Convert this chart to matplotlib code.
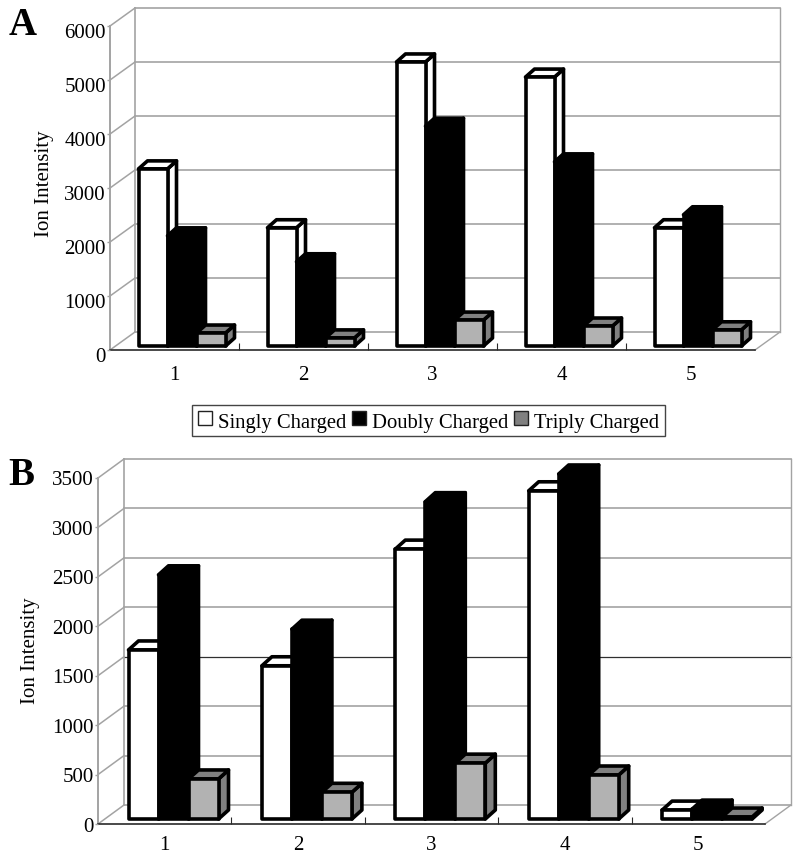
import matplotlib
matplotlib.use("Agg")
import matplotlib.pyplot as plt
from matplotlib.patches import Polygon, Rectangle
from matplotlib.transforms import ScaledTranslation

plt.rcParams['font.family'] = ['Liberation Serif', 'DejaVu Serif']

W, H = 800, 857
categories = ['1', '2', '3', '4', '5']
series_names = ['Singly Charged', 'Doubly Charged', 'Triply Charged']

a_singly = [3280, 2190, 5260, 4980, 2190]
a_doubly = [2040, 1560, 4070, 3410, 2430]
a_triply = [240, 150, 480, 370, 300]
a_ticks = [0, 1000, 2000, 3000, 4000, 5000, 6000]

b_singly = [1710, 1550, 2730, 3320, 90]
b_doubly = [2470, 1920, 3210, 3490, 100]
b_triply = [405, 270, 565, 445, 20]
b_ticks = [0, 500, 1000, 1500, 2000, 2500, 3000, 3500]

GRID = '#a3a3a3'
DARK = '#2a2a2a'
FRONT = ['white', 'black', '#b2b2b2']
DEPTH = ['white', 'black', '#808080']
LW_BAR = 2.6
FS = 15


def panel(rect_px, ticks, series, wall_px, bar_left_px, bar_w_px, bar_depth_px,
          base_px, xpad, ylabel_shift_px, dark_tick=None):
    left, top, right, bottom = rect_px
    ax = fig.add_axes([left / W, 1 - bottom / H, (right - left) / W, (bottom - top) / H])
    n = len(categories)
    ymax = ticks[-1]
    ax.set_xlim(0, n)
    ax.set_ylim(0, ymax)
    ax.patch.set_visible(False)
    for s in ax.spines.values():
        s.set_visible(False)
    sx = n / (right - left)
    sy = ymax / (bottom - top)
    wx, wy = wall_px[0] * sx, wall_px[1] * sy

    # walls and grid
    for t in ticks:
        dark = t == dark_tick
        ax.plot([wx, n + wx], [t + wy, t + wy], color='#303030' if dark else GRID,
                lw=0.9 if dark else 1.2, clip_on=False, zorder=1)
        ax.plot([0, wx], [t, t + wy], color=GRID, lw=1.1, clip_on=False, zorder=1)
    ax.plot([wx, wx], [wy, ymax + wy], color=GRID, lw=1.2, clip_on=False, zorder=1)
    ax.plot([n + wx, n + wx], [wy, ymax + wy], color=GRID, lw=1.0, clip_on=False, zorder=1)
    ax.plot([0, 0], [0, ymax], color=GRID, lw=1.4, clip_on=False, zorder=1)
    ax.plot([n, n + wx], [0, wy], color=GRID, lw=1.0, clip_on=False, zorder=1)
    ax.plot([0, n], [0, 0], color=DARK, lw=1.2, clip_on=False, zorder=1)

    # bars
    bw = bar_w_px * sx
    ddx, ddy = bar_depth_px[0] * sx, bar_depth_px[1] * sy
    base = base_px * sy
    x0 = bar_left_px * sx
    for j, vals in enumerate(series):
        for i, v in enumerate(vals):
            xl = i + x0 + j * bw
            xr = xl + bw
            yb, yt = base, base + v
            kw = dict(edgecolor='black', lw=LW_BAR, joinstyle='round', clip_on=False,
                      zorder=3 + j)
            ax.add_patch(Polygon([(xr, yb), (xr + ddx, yb + ddy), (xr + ddx, yt + ddy), (xr, yt)],
                                 facecolor=DEPTH[j], **kw))
            ax.add_patch(Polygon([(xl, yt), (xl + ddx, yt + ddy), (xr + ddx, yt + ddy), (xr, yt)],
                                 facecolor=DEPTH[j], **kw))
            ax.add_patch(Polygon([(xl, yb), (xr, yb), (xr, yt), (xl, yt)],
                                 facecolor=FRONT[j], **kw))

    ax.set_yticks(ticks)
    ax.set_yticklabels([str(t) for t in ticks])
    ax.tick_params(axis='y', length=2, width=1, color=GRID, pad=1, labelsize=FS)
    ax.set_xticks([i + 0.5 for i in range(n)])
    ax.set_xticklabels(categories)
    ax.set_xticks(range(1, n), minor=True)
    ax.tick_params(axis='x', which='major', length=0, pad=xpad, labelsize=FS)
    ax.tick_params(axis='x', which='minor', length=5, width=0.8, direction='in',
                   color=DARK, top=False)
    shift = ScaledTranslation(0, -ylabel_shift_px / 100, fig.dpi_scale_trans)
    for lab in ax.get_yticklabels():
        lab.set_transform(lab.get_transform() + shift)
    return ax


fig = plt.figure(figsize=(W / 100, H / 100), dpi=100, facecolor='white')

ax_a = panel((110, 26, 755, 350), a_ticks, [a_singly, a_doubly, a_triply],
             (25, 18), 28.5, 29, (9, 8), 4, 11.5, 5)
fig.text(44 / W, 1 - 184 / H, 'Ion Intensity', rotation=90, fontsize=FS,
         ha='center', va='center')

ax_b = panel((98, 478, 765, 824), b_ticks, [b_singly, b_doubly, b_triply],
             (26, 19), 30.5, 30, (10, 9), 5, 8.5, 0.5, dark_tick=1500)
fig.text(30 / W, 1 - 651 / H, 'Ion Intensity', rotation=90, fontsize=FS,
         ha='center', va='center')

fig.text(9 / W, 1 - 35 / H, 'A', fontsize=28, fontweight='bold', ha='left', va='baseline')
fig.text(8 / W, 1 - 485 / H, 'B', fontsize=28, fontweight='bold', ha='left', va='baseline')

handles = [Rectangle((0, 0), 1, 1, facecolor=c, edgecolor='#222222', lw=1.0)
           for c in ['white', 'black', '#808080']]
leg = fig.legend(handles, series_names, ncol=3, loc='center',
                 bbox_to_anchor=(428.5 / W, 1 - 420.5 / H), fontsize=14.9,
                 frameon=True, fancybox=False, edgecolor='#444444', framealpha=1,
                 handlelength=0.68, handleheight=0.68, handletextpad=0.26, columnspacing=0.3,
                 borderpad=0.3, borderaxespad=0)
leg.get_frame().set_linewidth(1.0)
for txt in leg.get_texts():
    txt.set_y(-3)

fig.savefig('out.png', dpi=100, facecolor='white')
